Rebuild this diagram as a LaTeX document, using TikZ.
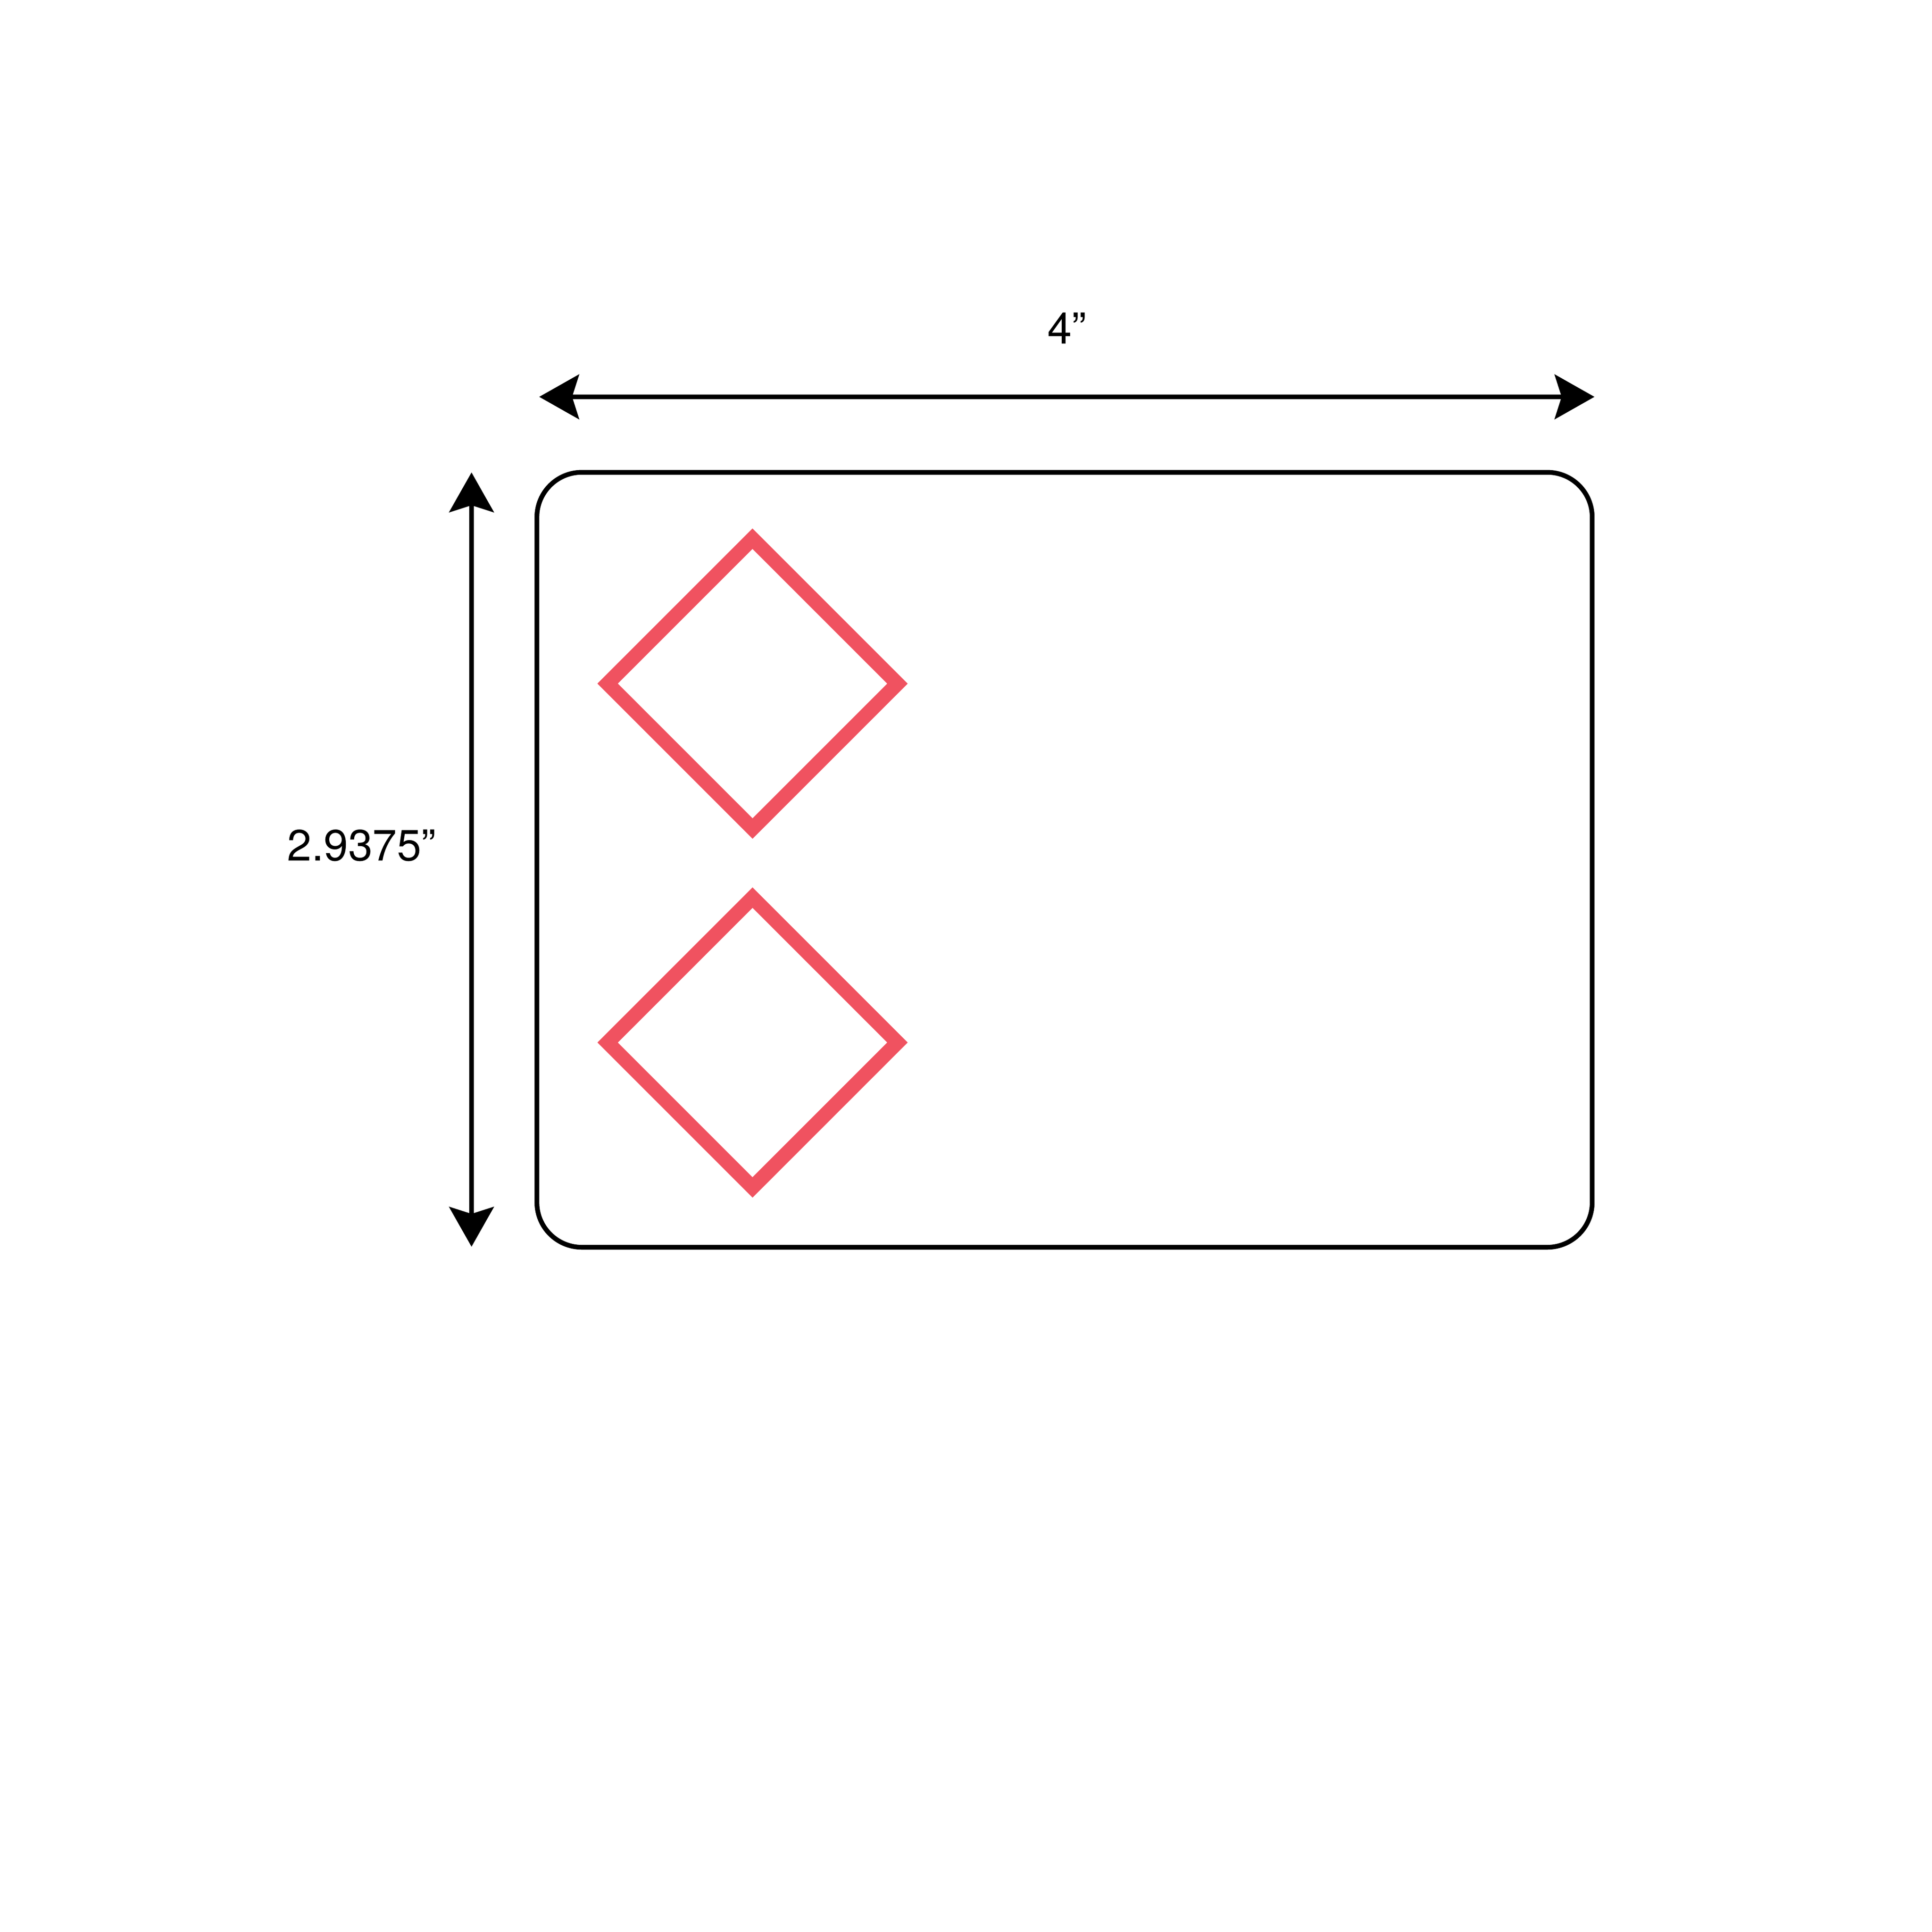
\documentclass[tikz,border=0pt]{standalone}
\usepackage{fontspec}
\setmainfont{TeX Gyre Heros}
\usepackage{tikz}
\usetikzlibrary{arrows.meta, shapes.geometric, positioning}
\definecolor{hazardred}{RGB}{240,82,96}
\tikzset{
>={Stealth[length=10.9pt, width=12.2pt, inset=1.9pt]}, % heads of the dimension lines
dim/.style={<->, line width=1.3pt}, % dimension lines
card/.style={draw, line width=1.3pt, rounded corners=0.17in, minimum width=4in, minimum height=2.9375in, inner sep=0pt, outer sep=0pt}, % the label itself
pictogram/.style={diamond, draw=hazardred, line width=3.95pt, aspect=1, minimum width=1.0985in, minimum height=1.0985in, inner sep=0pt, outer sep=0pt}, % empty GHS frames
dimtext/.style={font=\fontsize{12}{14}\selectfont, anchor=base, inner sep=0pt}, % sizes
}

\begin{document}
\begin{tikzpicture}
\useasboundingbox (0,0) rectangle (7.3234in,7.3234in);
\node[card] (card) at (4.0352in,4.0642in) {};
\node[pictogram] (upper) at (2.8524in,4.7320in) {};
\node[pictogram, below=0.2619in of upper] (lower) {};
\coordinate (wl) at (2.0439in,5.8190in);
\coordinate (wr) at (6.0439in,5.8190in);
\coordinate (ht) at (1.7873in,5.5325in);
\coordinate (hb) at (1.7873in,2.5975in);
\draw[dim] (wl) -- (wr);
\draw[dim] (ht) -- (hb);
\node[dimtext] (wlabel) at (4.0439in,6.0193in) {4”};
\node[dimtext] (hlabel) at (1.3708in,4.0598in) {2.9375”};
\end{tikzpicture}
\end{document}
